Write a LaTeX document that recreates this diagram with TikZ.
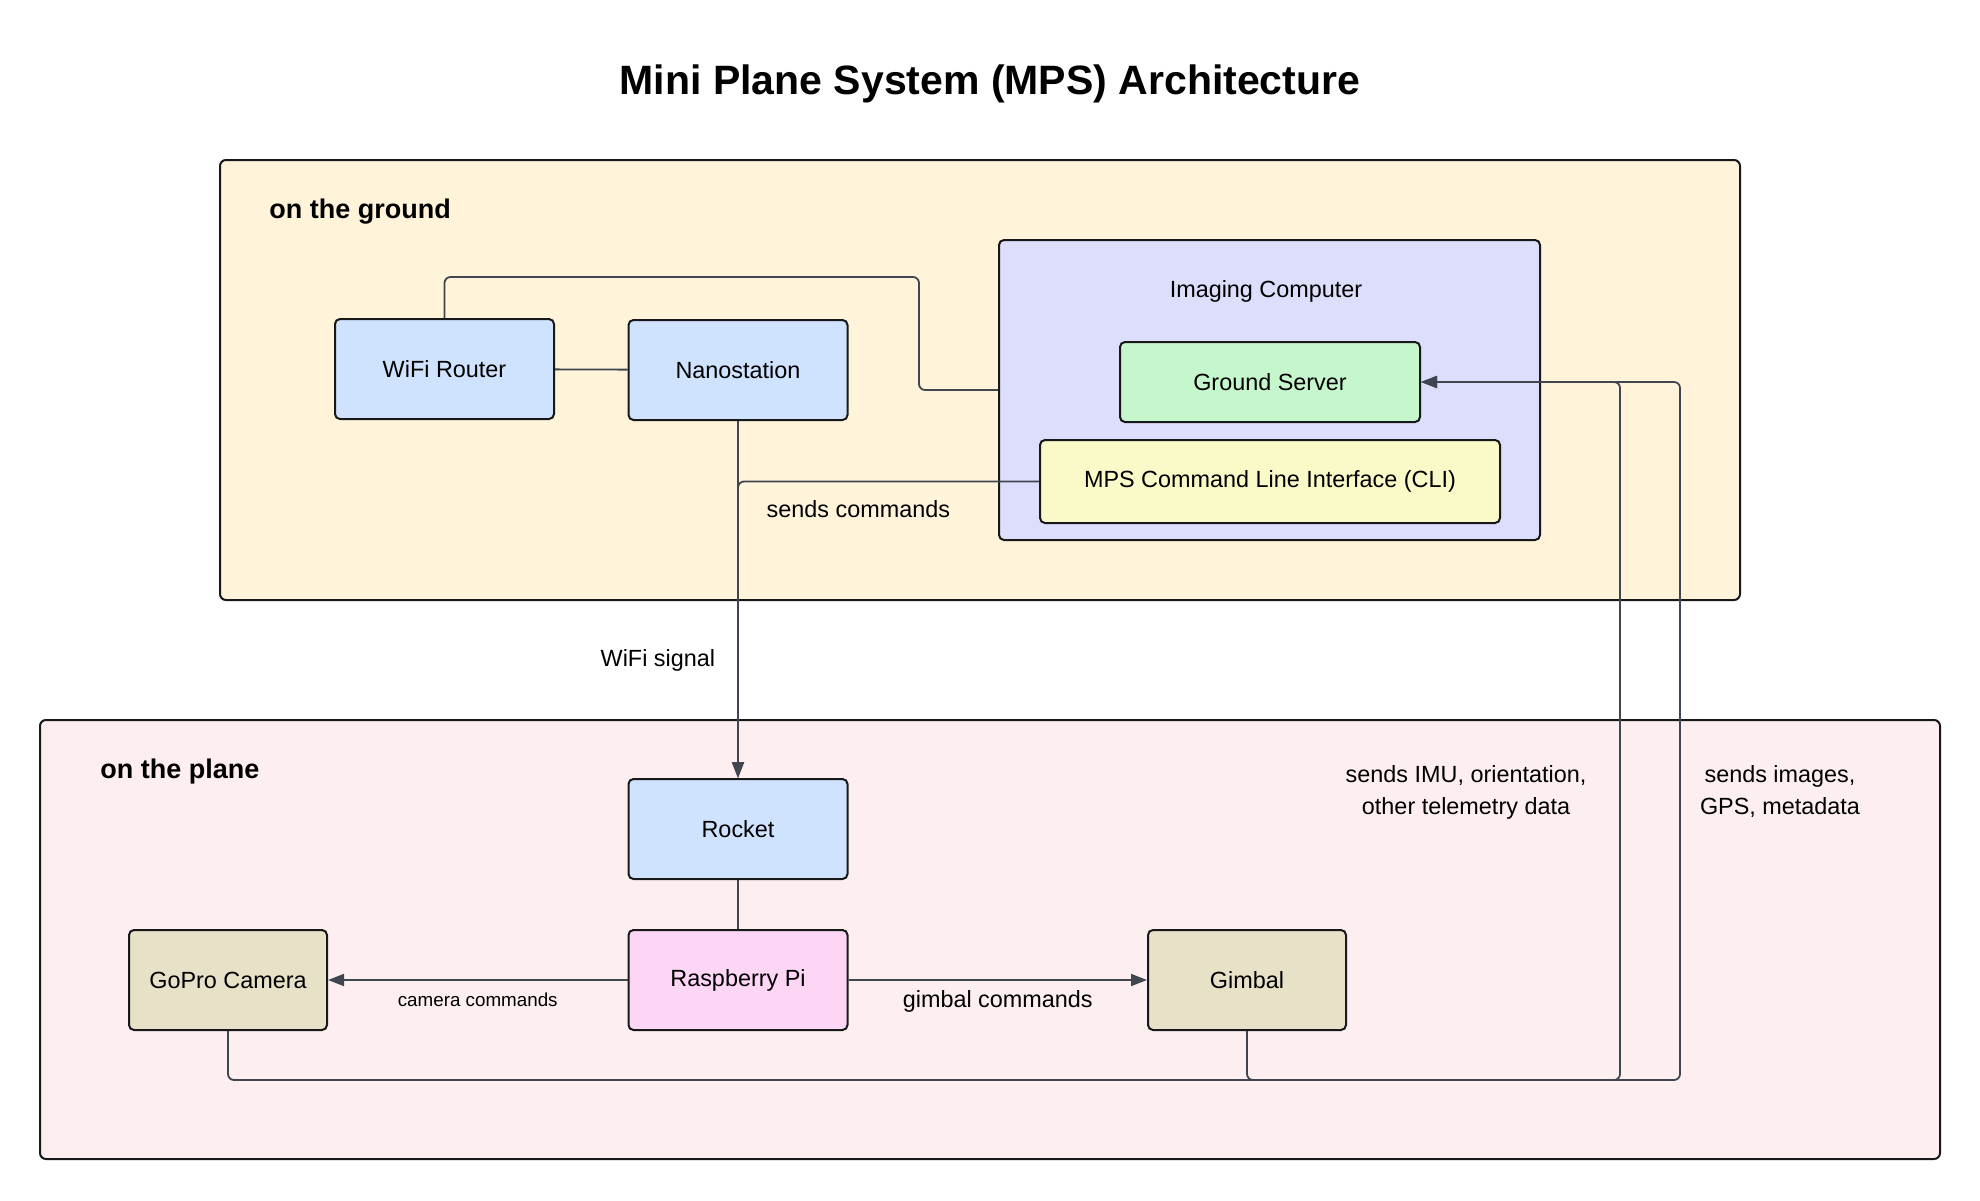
\documentclass[tikz,border=0pt]{standalone}
\usepackage{fontspec}
\setmainfont{Liberation Sans}
\usetikzlibrary{arrows.meta,calc}
\definecolor{MPSground}{RGB}{255,243,218}
\definecolor{MPSplane}{RGB}{253,239,239}
\definecolor{MPSimaging}{RGB}{221,222,251}
\definecolor{MPSblue}{RGB}{207,227,254}
\definecolor{MPSgreen}{RGB}{198,246,204}
\definecolor{MPSyellow}{RGB}{250,250,200}
\definecolor{MPSpink}{RGB}{253,214,245}
\definecolor{MPStan}{RGB}{231,225,199}
\definecolor{MPSdark}{RGB}{24,24,27}
\definecolor{MPSlink}{RGB}{64,70,80}
\tikzset{
  mps cluster/.style={
    draw=MPSdark,
    line width=1pt,
    rounded corners=3pt,
    inner sep=0pt
  },
  mps heading/.style={font=\bfseries\fontsize{13.5}{16}\selectfont,inner sep=0pt},
  mps box/.style={
    draw=MPSdark,
    line width=1pt,
    rounded corners=2.5pt,
    minimum width=109.5pt,
    minimum height=50pt,
    align=center,
    inner sep=3pt,
    font=\fontsize{11.7}{16}\selectfont
  },
  mps net/.style={mps box,fill=MPSblue},
  mps device/.style={mps box,fill=MPStan,minimum width=99pt},
  mps label/.style={font=\fontsize{11.7}{16}\selectfont,text=black,align=center,inner sep=2pt},
  mps link/.style={line width=0.9pt,MPSlink,rounded corners=3pt},
  mps arrow/.style={mps link,-{Triangle[length=8pt,width=6pt]}}
}
\begin{document}
\begin{tikzpicture}[x=0.5pt,y=-0.5pt]
  \fill[white] (0,0) rectangle (1980,1200);
  \node[font=\bfseries\fontsize{20.5}{24}\selectfont] (title) at (990,84)
    {Mini Plane System (MPS) Architecture};

  \node[mps cluster,fill=MPSground,minimum width=760pt,minimum height=220pt] (ground) at (980,380) {};
  \node[mps heading,anchor=west] (ground-label) at (269,212) {on the ground};

  \node[mps cluster,fill=MPSplane,minimum width=950pt,minimum height=219.5pt] (plane) at (990,939.5) {};
  \node[mps heading,anchor=west] (plane-label) at (100,772) {on the plane};

  \node[mps cluster,fill=MPSimaging,minimum width=270.5pt,minimum height=150pt,rounded corners=2.5pt] (imaging) at (1269.5,390) {};
  \node[mps label] (imaging-label) at (1266,291) {Imaging Computer};

  \node[mps net] (router) at (444.5,369) {WiFi Router};
  \node[mps net] (nano) at (738,370) {Nanostation};
  \node[mps box,fill=MPSgreen,minimum width=150pt,minimum height=40pt] (server) at (1270,382) {Ground Server};
  \node[mps box,fill=MPSyellow,minimum width=230pt,minimum height=41.5pt] (cli) at (1270,481.5)
    {MPS Command Line Interface (CLI)};

  \node[mps net] (rocket) at (738,829) {Rocket};
  \node[mps box,fill=MPSpink] (pi) at (738,980) {Raspberry Pi};
  \node[mps device] (gopro) at (228,980) {GoPro Camera};
  \node[mps device] (gimbal) at (1247,980) {Gimbal};

  \draw[mps link] (router) -- (nano);
  \draw[mps link] (router.north) -- ++(0,-41) -| (919,390) -- (imaging.west);
  \draw[mps arrow] (nano.south) -- node[mps label,pos=0.67,left=9pt] (wifi-label) {WiFi signal} (rocket.north);
  \draw[mps arrow] (cli.west) -| node[mps label,pos=0.3,below=7pt] (cmd-label) {sends commands} (rocket.north);

  \draw[mps link] (rocket) -- (pi);
  \draw[mps arrow] (pi) -- node[mps label,below=4pt,font=\fontsize{9.4}{12}\selectfont] (cam-label) {camera commands} (gopro);
  \draw[mps arrow] (pi) -- node[mps label,below=3pt] (gim-label) {gimbal commands} (gimbal);

  \draw[mps arrow] (gimbal.south) |- (1620,1080) |- (server.east);
  \draw[mps arrow] (gopro.south) |- (1680,1080) |- (server.east);
  \node[mps label] (telemetry-label) at (1466,792) {sends IMU, orientation,\\other telemetry data};
  \node[mps label] (images-label) at (1780,792) {sends images,\\GPS, metadata};
\end{tikzpicture}
\end{document}
